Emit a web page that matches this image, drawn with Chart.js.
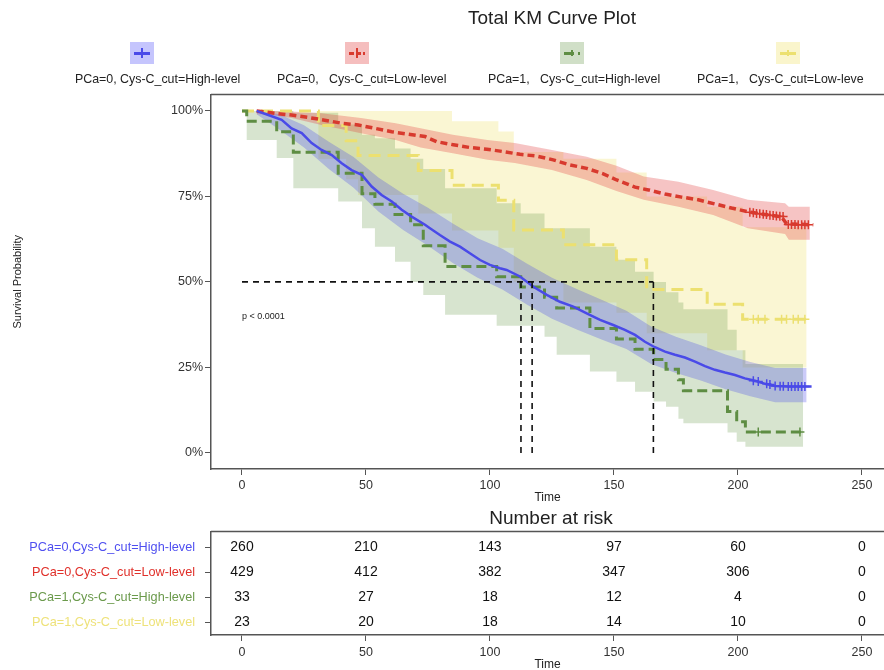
<!DOCTYPE html>
<html>
<head>
<meta charset="utf-8">
<script src="https://cdn.jsdelivr.net/npm/chart.js@4.4.1/dist/chart.umd.min.js"></script>
<style>
  html, body { margin: 0; padding: 0; background: #fff; }
  body { width: 884px; height: 670px; overflow: hidden; position: relative; font-family: "Liberation Sans", Arial, sans-serif; color: #222; }
  #kmCanvas { position: absolute; left: 0; top: 0; }
  #riskCanvas { position: absolute; left: 0; top: 505px; }
  .title { position: absolute; width: 240px; text-align: center; font-size: 19px; line-height: 22px; color: #222; }
  .leg-box { position: absolute; top: 42px; width: 24px; height: 22px; }
  .leg-line { position: absolute; left: 4px; top: 10px; width: 16px; height: 3px; }
  .leg-tick { position: absolute; left: 11px; top: 6px; width: 2px; height: 10px; }
  .leg-label { position: absolute; top: 72px; font-size: 12.4px; line-height: 14px; white-space: pre; color: #222; }
</style>
</head>
<body>
<canvas id="kmCanvas" width="884" height="505"></canvas>
<canvas id="riskCanvas" width="884" height="167"></canvas>

<div class="title" style="left:432px; top:7px;">Total KM Curve Plot</div>

<div class="leg-box" style="left:130px; background:rgba(90,90,250,0.35);">
  <div class="leg-line" style="background:#4a4ae8;"></div><div class="leg-tick" style="background:#4a4ae8;"></div>
</div>
<div class="leg-box" style="left:345px; background:rgba(225,70,70,0.35);">
  <div class="leg-line" style="background:repeating-linear-gradient(90deg,#d83a2e 0 5px,transparent 5px 7px);"></div><div class="leg-tick" style="background:#d83a2e;"></div>
</div>
<div class="leg-box" style="left:560px; background:rgba(100,150,70,0.3);">
  <div class="leg-line" style="background:repeating-linear-gradient(90deg,#5e8d43 0 10px,transparent 10px 14px);"></div><div class="leg-tick" style="background:#5e8d43; height:6px; top:8px;"></div>
</div>
<div class="leg-box" style="left:776px; background:rgba(240,225,110,0.35);">
  <div class="leg-line" style="background:#ece070;"></div><div class="leg-tick" style="background:#ece070; height:6px; top:8px;"></div>
</div>

<div class="leg-label" style="left:75px;">PCa=0, Cys-C_cut=High-level</div>
<div class="leg-label" style="left:277px;">PCa=0,   Cys-C_cut=Low-level</div>
<div class="leg-label" style="left:488px;">PCa=1,   Cys-C_cut=High-level</div>
<div class="leg-label" style="left:697px;">PCa=1,   Cys-C_cut=Low-leve</div>

<div class="title" style="left:431px; top:507px;">Number at risk</div>

<script>
Chart.defaults.font.family = '"Liberation Sans", Arial, sans-serif';

const timeTicks = [0, 50, 100, 150, 200, 250];
const survTicks = [0, 0.25, 0.5, 0.75, 1];

// PCa=0, Cys-C_cut=High-level (blue)
const blueT = [5.9, 10.6, 16.0, 20.0, 24.1, 28.1, 32.1, 36.2, 40.2, 44.2, 48.3, 52.3, 56.3, 60.4, 64.4, 68.4, 73.8, 75.8, 79.8, 83.9,
  87.9, 91.9, 96.0, 100.0, 104.0, 106.7, 112.1, 117.5, 122.9, 128.2, 133.6, 139.0, 144.4, 149.7, 154.4, 158.5, 162.5, 166.5, 170.6,
  174.6, 178.6, 182.7, 186.7, 190.7, 194.8, 198.8, 202.8, 206.9, 211.0, 215.0, 220.3, 229.7];
const blueS = [1.0, 0.988, 0.974, 0.949, 0.935, 0.906, 0.886, 0.871, 0.847, 0.827, 0.813, 0.779, 0.754, 0.735, 0.711, 0.691, 0.667, 0.657, 0.637, 0.618,
  0.603, 0.584, 0.564, 0.550, 0.540, 0.535, 0.516, 0.486, 0.462, 0.442, 0.428, 0.408, 0.389, 0.374, 0.360, 0.345, 0.325, 0.309, 0.296,
  0.287, 0.279, 0.267, 0.254, 0.243, 0.235, 0.228, 0.218, 0.211, 0.202, 0.196, 0.194, 0.194];
const blueBandT = [5.9, 15, 25, 35, 45, 55, 65, 75, 85, 95, 105, 115, 125, 135, 145, 155, 165, 175, 185, 195, 205, 215, 227.7];
const blueLo = [0.99, 0.946, 0.893, 0.83, 0.775, 0.706, 0.652, 0.606, 0.555, 0.512, 0.478, 0.433, 0.392, 0.361, 0.332, 0.304, 0.26, 0.234, 0.212, 0.186, 0.166, 0.148, 0.148];
const blueHi = [1.0, 0.99, 0.958, 0.91, 0.865, 0.805, 0.758, 0.717, 0.671, 0.628, 0.597, 0.553, 0.512, 0.479, 0.448, 0.416, 0.37, 0.34, 0.315, 0.288, 0.266, 0.248, 0.248];
const blueCensT = [206.2, 208.2, 211.6, 212.9, 215, 217, 218.3, 220.3, 221.6, 223, 224.3, 225.7, 227];
const blueCensS = [0.211, 0.209, 0.202, 0.2, 0.196, 0.195, 0.195, 0.194, 0.194, 0.194, 0.194, 0.194, 0.194];

// PCa=0, Cys-C_cut=Low-level (red)
const redT = [5.9, 13.3, 20, 26.7, 33.3, 40.2, 46.9, 53.6, 60.4, 67.1, 73.8, 78.5, 85.2, 91.9, 98.7, 105.4, 112.1, 118.8, 125.5, 132.3,
  139, 145.7, 151.1, 154.4, 158.5, 163.9, 170.6, 177.3, 184, 190.7, 197.4, 204.2, 210.9, 217.6, 219.6, 230.4];
const redS = [1.0, 0.993, 0.988, 0.981, 0.973, 0.964, 0.959, 0.949, 0.939, 0.932, 0.925, 0.910, 0.901, 0.893, 0.888, 0.881, 0.873, 0.868, 0.857, 0.842,
  0.832, 0.816, 0.798, 0.789, 0.777, 0.769, 0.757, 0.748, 0.740, 0.728, 0.716, 0.705, 0.697, 0.690, 0.670, 0.667];
const redBandT = [5.9, 10, 20, 32, 48, 62, 72, 85, 99, 110, 125, 139, 151, 162, 176, 190, 204, 219, 220.5, 229];
const redLo = [0.99, 0.99, 0.979, 0.959, 0.935, 0.915, 0.893, 0.876, 0.857, 0.848, 0.827, 0.798, 0.766, 0.74, 0.72, 0.696, 0.657, 0.64, 0.623, 0.623];
const redHi = [1.0, 1.0, 0.998, 0.993, 0.979, 0.964, 0.949, 0.93, 0.915, 0.906, 0.886, 0.866, 0.84, 0.808, 0.793, 0.769, 0.74, 0.73, 0.72, 0.72];
const redCensT = [204.8, 206.2, 207.5, 208.8, 210.2, 211.5, 212.9, 214.2, 215.5, 216.9, 218.2, 220.3, 221.6, 223, 224.3, 225.7, 227, 228.4];
const redCensS = [0.704, 0.702, 0.7, 0.699, 0.698, 0.697, 0.695, 0.694, 0.693, 0.692, 0.691, 0.668, 0.668, 0.668, 0.667, 0.667, 0.667, 0.667];

// PCa=1, Cys-C_cut=High-level (green)
const greenT = [0, 1.9, 14, 20.7, 38.8, 48.4, 53.6, 61.7, 68, 73.1, 81.9, 102.7, 112.4, 122, 126.9, 140.3, 151, 158.5, 166, 171, 176, 178, 195.8, 199.5, 203, 226.3];
const greenS = [1, 0.970, 0.939, 0.879, 0.818, 0.758, 0.727, 0.697, 0.667, 0.606, 0.545, 0.515, 0.485, 0.455, 0.424, 0.364, 0.333, 0.303, 0.273, 0.245, 0.214, 0.182, 0.121, 0.091, 0.061, 0.061];
const greenLo = [1, 0.915, 0.862, 0.774, 0.735, 0.657, 0.603, 0.559, 0.50, 0.462, 0.404, 0.372, 0.372, 0.34, 0.287, 0.238, 0.208, 0.179, 0.15, 0.135, 0.10, 0.087, 0.06, 0.033, 0.018, 0.018];
const greenHi = [1, 1, 1, 0.995, 0.96, 0.93, 0.92, 0.89, 0.86, 0.83, 0.774, 0.73, 0.70, 0.657, 0.657, 0.603, 0.565, 0.53, 0.50, 0.47, 0.44, 0.42, 0.36, 0.30, 0.26, 0.26];
const greenCensT = [208.2, 225];
const greenCensS = [0.061, 0.061];

// PCa=1, Cys-C_cut=Low-level (yellow)
const yellowT = [0, 30.8, 42, 46.8, 71.1, 84.7, 103.4, 109.6, 129.6, 151, 163.2, 187.6, 201.9, 229.7];
const yellowS = [1, 0.957, 0.913, 0.870, 0.826, 0.783, 0.739, 0.652, 0.609, 0.565, 0.478, 0.435, 0.391, 0.391];
const yellowBandT = [0, 30.8, 42, 46.8, 71.1, 84.7, 103.4, 109.6, 129.6, 151, 163.2, 187.6, 201.9, 227.7];
const yellowLo = [1, 0.86, 0.80, 0.754, 0.70, 0.65, 0.60, 0.50, 0.44, 0.41, 0.35, 0.30, 0.25, 0.25];
const yellowHi = [1, 1, 1, 1, 1, 0.97, 0.94, 0.88, 0.86, 0.82, 0.75, 0.72, 0.66, 0.66];
const yellowCensT = [206.2, 208.2, 210.9, 217.6, 219.6, 222.3, 224.3, 227];
const yellowCensS = [0.391, 0.391, 0.391, 0.391, 0.391, 0.391, 0.391, 0.391];

// median survival guides
const medianLevel = 0.5;
const medianTimes = [112.5, 117, 165.9];

// number at risk table
const riskLabels = ['PCa=0,Cys-C_cut=High-level', 'PCa=0,Cys-C_cut=Low-level', 'PCa=1,Cys-C_cut=High-level', 'PCa=1,Cys-C_cut=Low-level'];
const riskBlue = [260, 210, 143, 97, 60, 0];
const riskRed = [429, 412, 382, 347, 306, 0];
const riskGreen = [33, 27, 18, 12, 4, 0];
const riskYellow = [23, 20, 18, 14, 10, 0];

const C = {
  blue: '#4a4ae8', red: '#d83a2e', green: '#5e8d43', yellow: '#ece070',
  blueFill: 'rgba(70,70,235,0.28)', redFill: 'rgba(225,60,60,0.3)',
  greenFill: 'rgba(100,150,70,0.26)', yellowFill: 'rgba(240,225,110,0.3)'
};
const rowColors = ['#4f4ff0', '#e0302a', '#6b9a4c', '#eee27a'];

const pts = (ts, ys) => ts.map((t, i) => ({ x: t, y: ys[i] }));

function band(ts, lo, hi, fill, stepped) {
  return [
    { data: pts(ts, lo), borderWidth: 0, pointRadius: 0, fill: false, stepped, order: 10 },
    { data: pts(ts, hi), borderWidth: 0, pointRadius: 0, fill: '-1', backgroundColor: fill, stepped, order: 10 }
  ];
}
function curve(ts, ys, color, width, dash, stepped) {
  return { data: pts(ts, ys), borderColor: color, borderWidth: width, borderDash: dash, pointRadius: 0, fill: false, stepped, order: 2 };
}
function censor(ts, ys, color) {
  return { data: pts(ts, ys), showLine: false, pointStyle: 'cross', pointRadius: 4.5, borderColor: color, pointBorderWidth: 1.5, order: 1 };
}
const guide = d => ({ data: d, borderColor: '#111', borderWidth: 1.6, borderDash: [6, 5], pointRadius: 0, fill: false, order: 0 });

const datasets = [
  ...band(blueBandT, blueLo, blueHi, C.blueFill, false),
  ...band(redBandT, redLo, redHi, C.redFill, false),
  ...band(greenT, greenLo, greenHi, C.greenFill, true),
  ...band(yellowBandT, yellowLo, yellowHi, C.yellowFill, true),
  curve(blueT, blueS, C.blue, 2.5, [], false),
  curve(redT, redS, C.red, 3.5, [7, 4], false),
  curve(greenT, greenS, C.green, 3, [10, 5], true),
  curve(yellowT, yellowS, C.yellow, 3, [12, 7], true),
  censor(blueCensT, blueCensS, C.blue),
  censor(redCensT, redCensS, C.red),
  censor(greenCensT, greenCensS, C.green),
  censor(yellowCensT, yellowCensS, C.yellow),
  guide([{ x: 0, y: medianLevel }, { x: medianTimes[2], y: medianLevel }]),
  ...medianTimes.map(m => guide([{ x: m, y: medianLevel }, { x: m, y: 0 }]))
];

const frameLine = {
  id: 'frameLine',
  afterDraw(chart) {
    const { ctx, chartArea } = chart;
    ctx.save();
    ctx.strokeStyle = '#555';
    ctx.lineWidth = 1.5;
    ctx.beginPath();
    ctx.moveTo(chartArea.left, chartArea.top);
    ctx.lineTo(chartArea.right, chartArea.top);
    ctx.stroke();
    ctx.restore();
  }
};

const pValue = {
  id: 'pValue',
  afterDatasetsDraw(chart) {
    const { ctx, scales } = chart;
    ctx.save();
    ctx.fillStyle = '#222';
    ctx.font = '9px "Liberation Sans", Arial, sans-serif';
    ctx.textBaseline = 'middle';
    ctx.fillText('p < 0.0001', scales.x.getPixelForValue(0), scales.y.getPixelForValue(0.4));
    ctx.restore();
  }
};

const xScale = (height, pad) => ({
  type: 'linear', min: -12.5, max: 258.9,
  afterBuildTicks: s => { s.ticks = timeTicks.map(v => ({ value: v })); },
  afterFit: s => { s.height = height; },
  grid: { drawOnChartArea: false, tickLength: 6, color: '#555' },
  border: { color: '#555', width: 1.5 },
  ticks: { color: '#333', font: { size: 12.5 }, padding: pad, maxRotation: 0 },
  title: { display: true, text: 'Time', color: '#222', font: { size: 12 }, padding: { top: 0, bottom: 0 } }
});

new Chart(document.getElementById('kmCanvas'), {
  type: 'line',
  data: { datasets },
  options: {
    responsive: false, animation: false, devicePixelRatio: 1,
    layout: { autoPadding: false, padding: { top: 94.5, left: 0, right: 0, bottom: 0 } },
    plugins: { legend: { display: false }, tooltip: { enabled: false } },
    scales: {
      x: xScale(36, 3),
      y: {
        type: 'linear', min: -0.047, max: 1.048,
        afterBuildTicks: s => { s.ticks = survTicks.map(v => ({ value: v })); },
        afterFit: s => { s.width = 211; },
        grid: { drawOnChartArea: false, tickLength: 6, color: '#555' },
        border: { color: '#555', width: 1.5 },
        ticks: { color: '#333', font: { size: 12.5 }, padding: 2, callback: v => Math.round(v * 100) + '%' },
        title: { display: true, text: 'Survival Probability', color: '#222', font: { size: 11 }, padding: { top: 11, bottom: 0 } }
      }
    }
  },
  plugins: [frameLine, pValue]
});

const riskRows = [riskBlue, riskRed, riskGreen, riskYellow];

const riskText = {
  id: 'riskText',
  afterDatasetsDraw(chart) {
    const { ctx } = chart;
    ctx.save();
    ctx.fillStyle = '#111';
    ctx.font = '14px "Liberation Sans", Arial, sans-serif';
    ctx.textAlign = 'center';
    ctx.textBaseline = 'middle';
    chart.data.datasets.forEach((ds, r) => {
      chart.getDatasetMeta(r).data.forEach((el, i) => {
        ctx.fillText(String(riskRows[r][i]), el.x, el.y);
      });
    });
    ctx.restore();
  }
};

new Chart(document.getElementById('riskCanvas'), {
  type: 'line',
  data: {
    datasets: riskRows.map((row, r) => ({
      data: timeTicks.map(t => ({ x: t, y: r })),
      showLine: false, pointRadius: 0
    }))
  },
  options: {
    responsive: false, animation: false, devicePixelRatio: 1,
    layout: { autoPadding: false, padding: { top: 26.5, left: 0, right: 0, bottom: 0 } },
    plugins: { legend: { display: false }, tooltip: { enabled: false } },
    scales: {
      x: xScale(37, 4),
      y: {
        type: 'linear', reverse: true, min: -0.62, max: 3.52,
        afterBuildTicks: s => { s.ticks = [0, 1, 2, 3].map(v => ({ value: v })); },
        afterFit: s => { s.width = 211; },
        grid: { drawOnChartArea: false, tickLength: 6, color: '#555' },
        border: { color: '#555', width: 1.5 },
        ticks: { font: { size: 12.7 }, padding: 10, color: c => rowColors[c.index], callback: v => riskLabels[v] }
      }
    }
  },
  plugins: [frameLine, riskText]
});
</script>
</body>
</html>
